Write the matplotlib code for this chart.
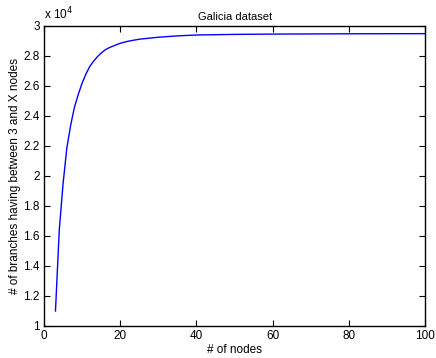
import matplotlib
matplotlib.use('Agg')
import matplotlib.pyplot as plt
from matplotlib.ticker import FuncFormatter

plt.rcParams['font.family'] = ['Liberation Sans', 'DejaVu Sans']

# values
nodes = [3, 4, 5, 6, 7, 8, 9, 10, 11, 12, 13, 14, 15, 16, 17, 18, 20, 22, 25, 30,
         35, 40, 50, 60, 80, 100]
branches = [11000, 16400, 19500, 21900, 23400, 24600, 25450, 26200, 26800, 27300,
            27650, 27950, 28200, 28400, 28540, 28650, 28850, 28980, 29120, 29250,
            29340, 29400, 29440, 29460, 29480, 29490]

x_ticks = [0, 20, 40, 60, 80, 100]
y_ticks = [10000, 12000, 14000, 16000, 18000, 20000, 22000, 24000, 26000, 28000, 30000]

fig = plt.figure(figsize=(4.36, 3.58), dpi=100)
ax = fig.add_axes([0.101, 0.0894, 0.874, 0.838])

ax.plot(nodes, branches, color='#0000ff', linewidth=1.0)

ax.set_xlim(0, 100)
ax.set_ylim(10000, 30000)
ax.set_xticks(x_ticks)
ax.set_yticks(y_ticks)
ax.yaxis.set_major_formatter(FuncFormatter(lambda v, p: f'{v / 1e4:g}'))

ax.tick_params(direction='in', top=True, right=True, length=4, width=0.8,
               labelsize=8.5, pad=3)
for s in ax.spines.values():
    s.set_linewidth(1.0)

ax.set_xlabel('# of nodes', fontsize=8.5, labelpad=1)
ax.set_ylabel('# of branches having between 3 and X nodes', fontsize=8.5, labelpad=2)
ax.set_title('Galicia dataset', fontsize=8, pad=4)
ax.text(0.0, 1.012, r'x 10$^{4}$', transform=ax.transAxes, fontsize=8.5,
        ha='left', va='bottom')

fig.savefig('out.png', dpi=100)
